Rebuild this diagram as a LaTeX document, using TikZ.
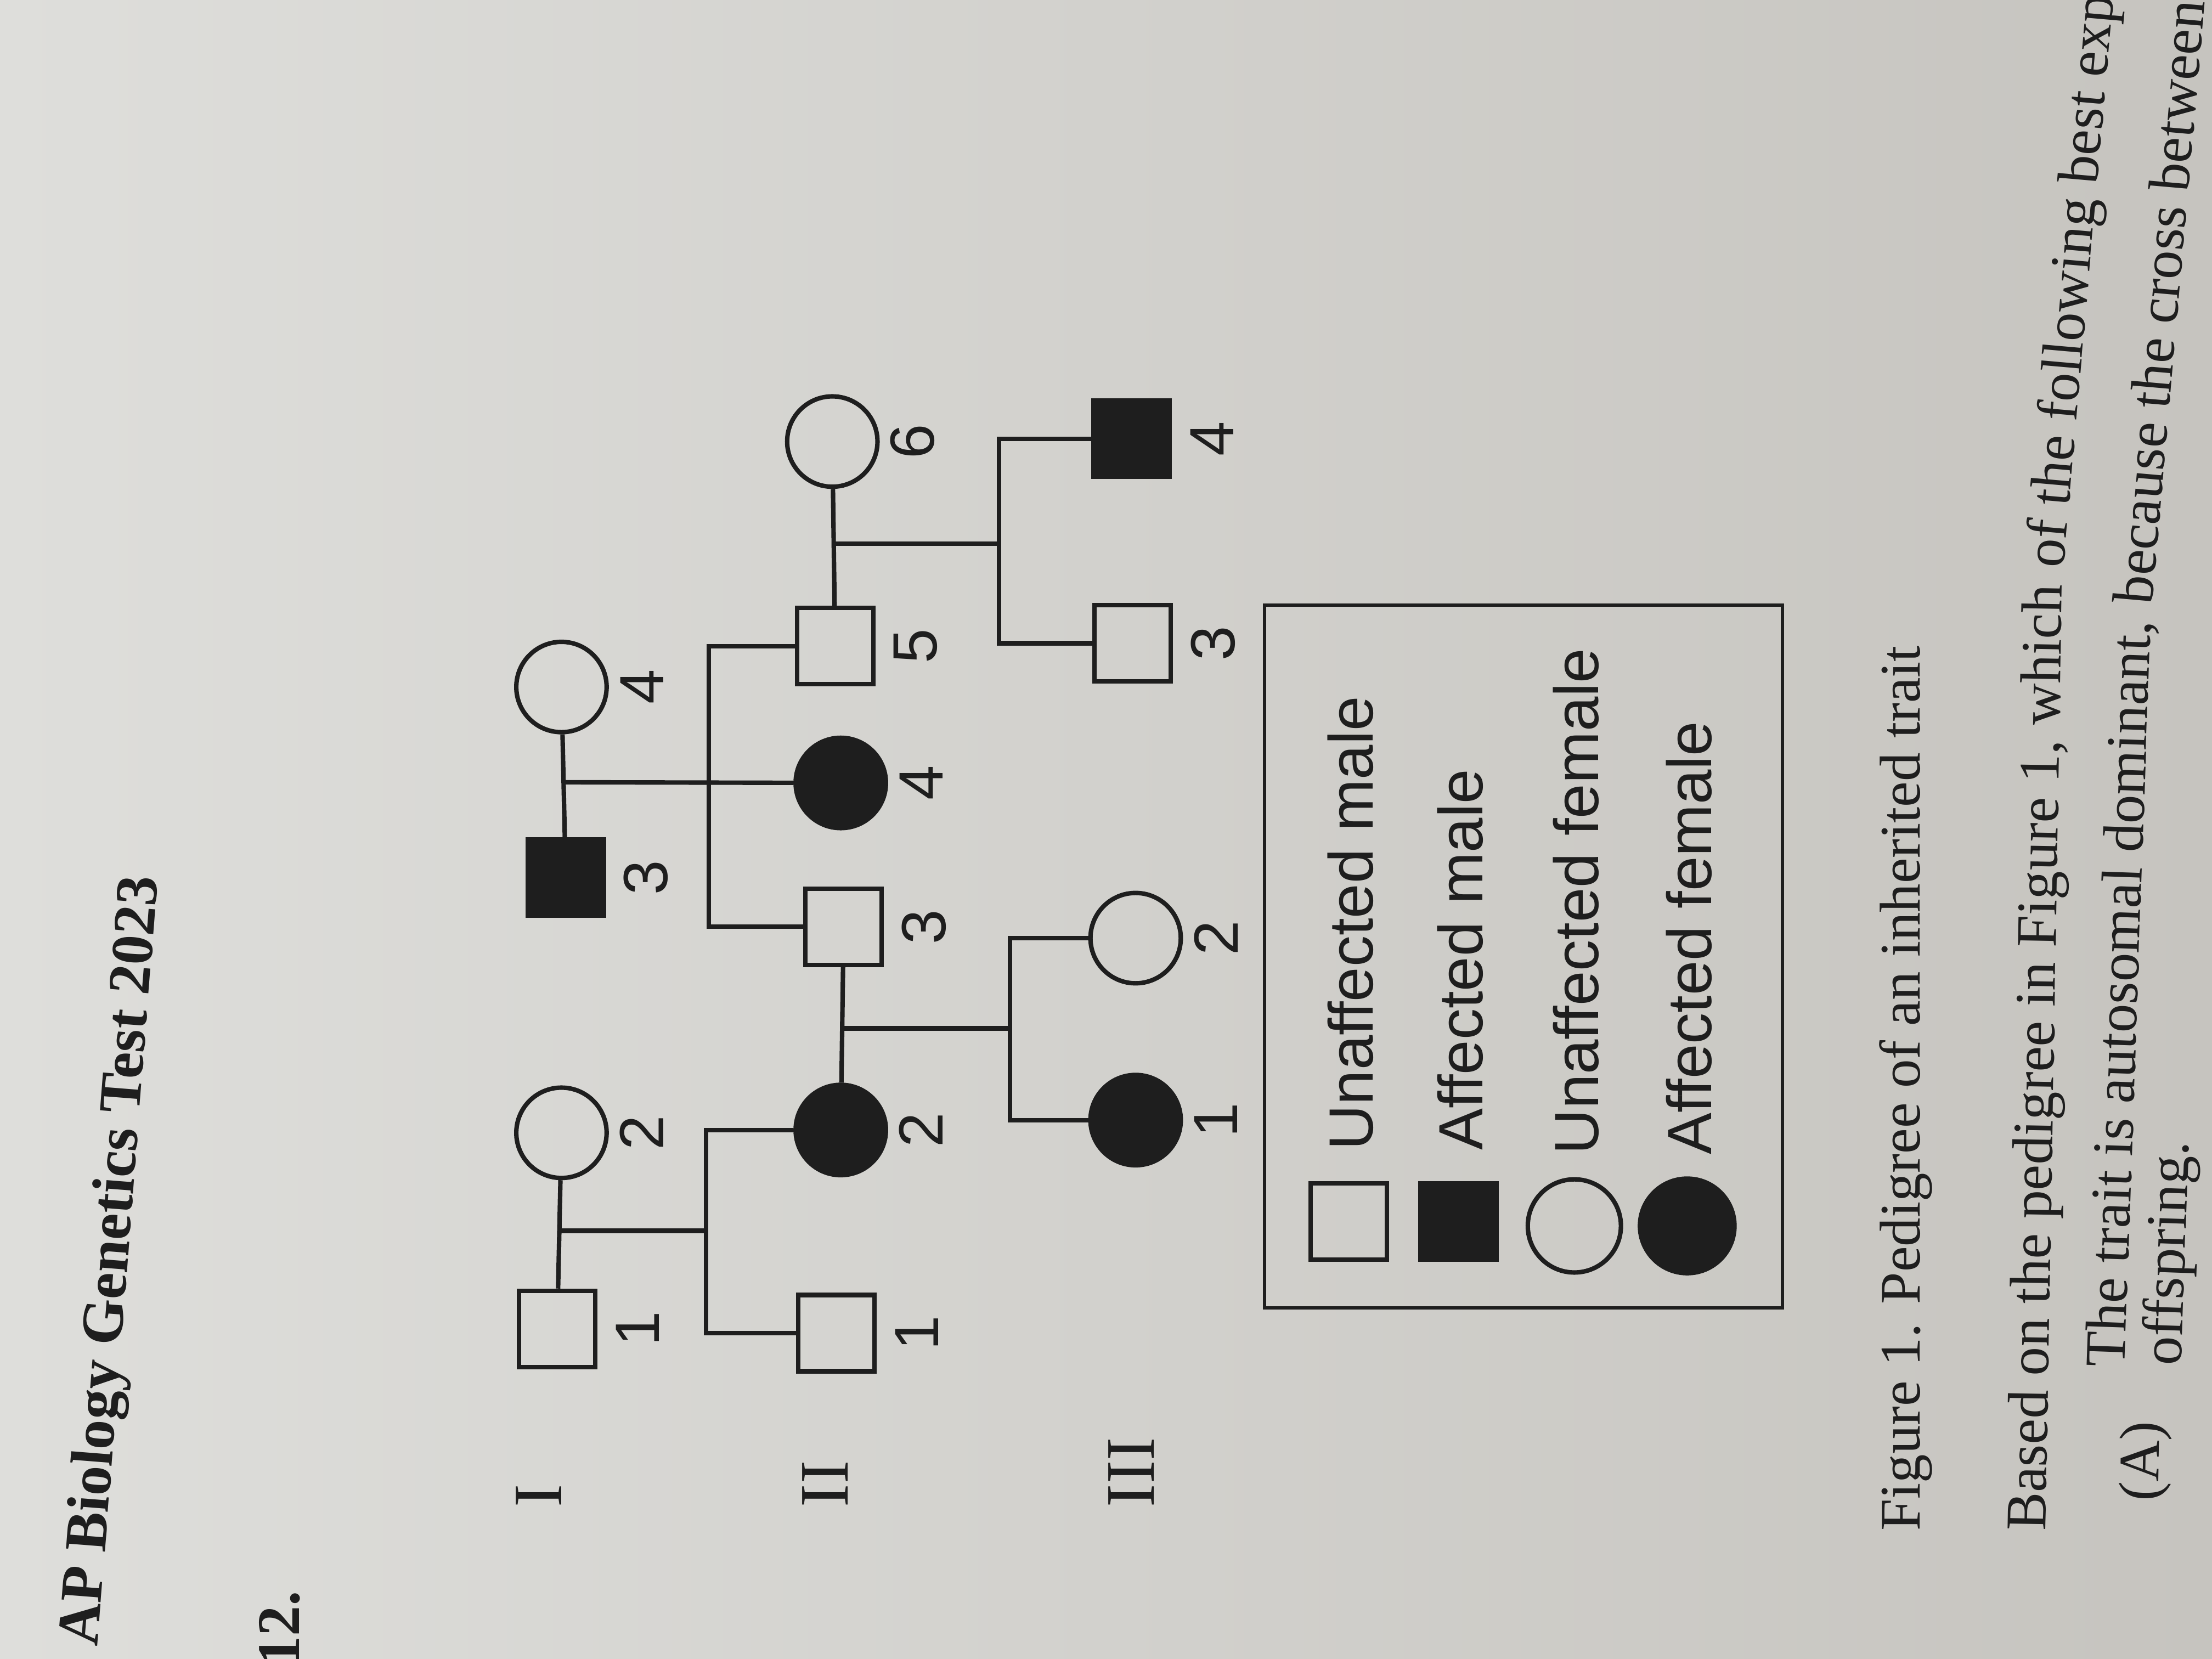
\documentclass[tikz,border=0pt]{standalone}
\usepackage{fontspec}
\setmainfont{Liberation Serif}
\setsansfont{Liberation Sans}
\usepackage{xcolor}
\usetikzlibrary{calc, positioning}
\definecolor{ink}{RGB}{30,30,30}
\definecolor{paperlight}{RGB}{222,222,219}
\definecolor{paperdark}{RGB}{198,196,191}

\begin{document}
\begin{tikzpicture}[
  x=0.01cm, y=-0.01cm,
  ind/.style={draw=ink, line width=0.9pt, inner sep=0pt},
  male/.style={ind, rectangle, minimum size=5.4mm},
  female/.style={ind, circle, minimum size=6.4mm},
  rel/.style={draw=ink, line width=0.9pt},
  num/.style={font=\sffamily\fontsize{12.6}{15}\selectfont, text=ink, rotate=90, inner sep=0pt},
  keytext/.style={num, anchor=base west},
  gen/.style={font=\fontsize{14}{16}\selectfont, text=ink, rotate=90, anchor=base west, inner sep=0pt},
  body/.style={font=\fontsize{11.6}{14}\selectfont, text=ink, anchor=base west, inner sep=0pt}
]
  \useasboundingbox (0,0) rectangle (1568,1176);
  \clip (0,0) rectangle (1568,1176);
  \shade[left color=paperlight, right color=paperdark] (0,0) rectangle (1568,1176);

  % Heading
  \node[body, font=\bfseries\fontsize{12}{14}\selectfont, rotate=85.5] (title) at (69,1168) {AP Biology Genetics Test 2023};
  \node[body, font=\bfseries\fontsize{12.2}{14}\selectfont, rotate=90] (qnum) at (212,1182) {12.};

  % Generations
  \node[gen] (g1) at (398,1069) {I};
  \node[gen] (g2) at (601,1069) {II};
  \node[gen] (g3) at (818,1069) {III};

  % Males
  \foreach \n/\x/\y/\col/\lab in {i1/395/942/none/1, i3/401/622/ink/3, ii1/593/945/none/1,
      ii3/598/657/none/3, ii5/592/458/none/5, iii3/803/456/none/3, iii4/802/311/ink/4} {
    \node[male, fill=\col] (\n) at (\x,\y) {};
    \node[num] (n\n) at (\x+57,\y) {\lab};
  }

  % Females
  \foreach \n/\x/\y/\col/\lab in {i2/398/803/none/2, i4/398/487/none/4, ii2/596/801/ink/2,
      ii4/596/555/ink/4, ii6/590/313/none/6, iii1/805/794/ink/1, iii2/805/665/none/2} {
    \node[female, fill=\col] (\n) at (\x,\y) {};
    \node[num] (n\n) at (\x+57,\y) {\lab};
  }

  % Matings
  \draw[rel] (i1) -- (i2);
  \draw[rel] (i3) -- (i4);
  \draw[rel] (ii2) -- (ii3);
  \draw[rel] (ii5) -- (ii6);

  % Descent lines
  \coordinate (m1) at ($(i1)!0.5!(i2)$);
  \coordinate (s1) at ($(m1)+(104,0)$);
  \draw[rel] (m1) -- (s1);
  \draw[rel] (ii2.west) -| (s1) |- (ii1.west);

  \coordinate (m2) at ($(i3)!0.5!(i4)$);
  \coordinate (s2) at ($(m2)+(103,0)$);
  \draw[rel] (m2) -- (ii4);
  \draw[rel] (ii5.west) -| (s2) |- (ii3.west);

  \coordinate (m3) at ($(ii5)!0.5!(ii6)$);
  \coordinate (s3) at ($(m3)+(117,0)$);
  \draw[rel] (m3) -- (s3);
  \draw[rel] (iii4.west) -| (s3) |- (iii3.west);

  \coordinate (m4) at ($(ii2)!0.5!(ii3)$);
  \coordinate (s4) at ($(m4)+(119,0)$);
  \draw[rel] (m4) -- (s4);
  \draw[rel] (iii1.west) -| (s4) |- (iii2.west);

  % Key
  \node[draw=ink, line width=0.7pt, minimum width=3.67cm, minimum height=4.98cm, inner sep=0pt] (legend) at (1080,678) {};
  \node[male] (lg1) at (956,866) {};
  \node[male, fill=ink] (lg2) at (1034,866) {};
  \node[female, minimum size=6.6mm] (lg3) at (1116,869) {};
  \node[female, fill=ink, minimum size=6.7mm] (lg4) at (1196,869) {};
  \foreach \k/\lab in {1/Unaffected male, 2/Affected male, 3/Unaffected female, 4/Affected female}
    \node[keytext] (lt\k) at ($(lg\k)+(17,-50)$) {\lab};

  % Caption and question
  \node[body, rotate=90] (caption) at (1361,1086) {Figure 1. Pedigree of an inherited trait};
  \node[body, rotate=89] (stemA) at (1450,1086) {Based on the pedigree in Figure 1, which};
  \node[body, rotate=85] (stemB) at (stemA.base east) {\ of the following best exp};
  \node[body, rotate=89] (optA) at (1530,1065) {(A)};
  \node[body, rotate=88] (ansA) at (1506,970) {The trait is autosomal dominant,};
  \node[body, rotate=85] (ansB) at (ansA.base east) {\ because the cross between};
  \node[body, rotate=88] (ansC) at (1546,969) {offspring.};
\end{tikzpicture}
\end{document}
